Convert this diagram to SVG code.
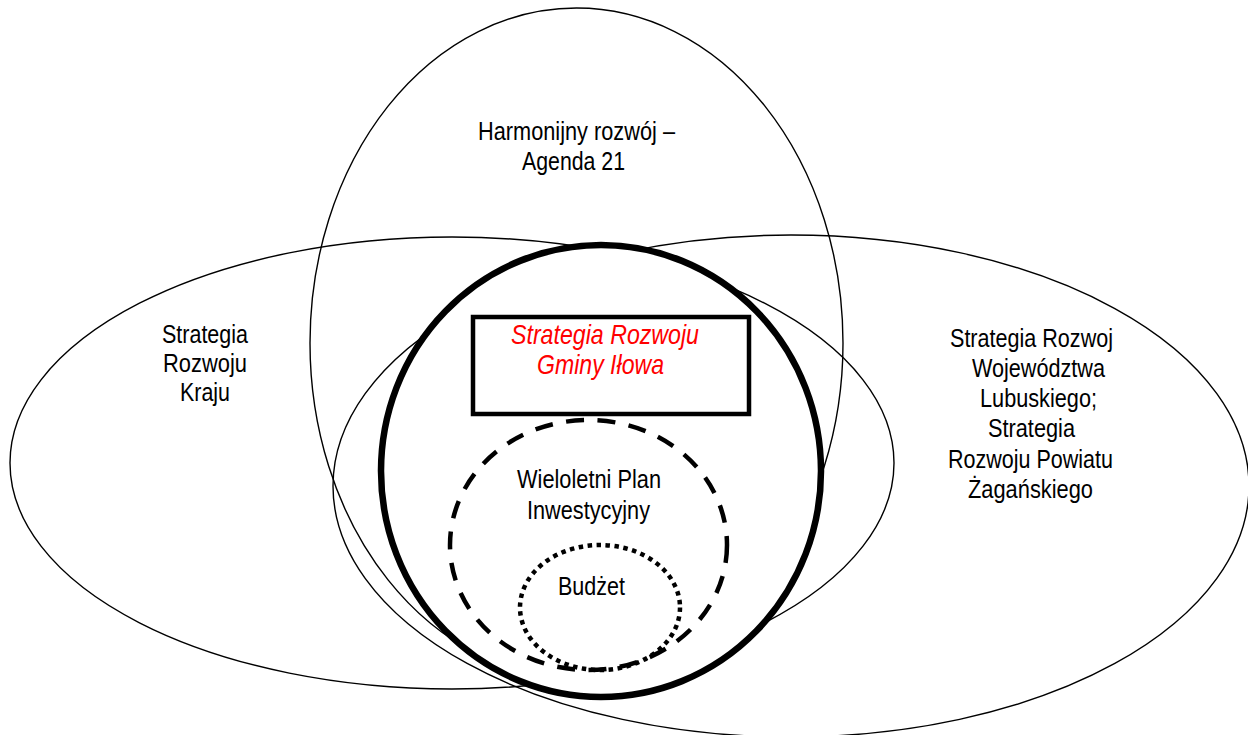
<svg xmlns="http://www.w3.org/2000/svg" width="1248" height="735" viewBox="0 0 1248 735">
<style>
.thin{fill:none;stroke:#000;stroke-width:1.4}
.lbl{font-family:'Liberation Sans Narrow','Arial Narrow','Liberation Sans',Arial,sans-serif;font-size:26.5px;fill:#000;text-anchor:middle}
.red{font-family:'Liberation Sans Narrow','Arial Narrow','Liberation Sans',Arial,sans-serif;font-size:28px;font-style:italic;fill:#ff0000;text-anchor:middle}
</style>
<rect width="1248" height="735" fill="#fff"/>
<g id="agenda21">
<ellipse class="thin" cx="576.5" cy="343" rx="266.5" ry="335"/>
<text class="lbl" x="576.5" y="140" textLength="197" lengthAdjust="spacingAndGlyphs">Harmonijny rozwój –</text>
<text class="lbl" x="573.5" y="170" textLength="103" lengthAdjust="spacingAndGlyphs">Agenda 21</text>
</g>
<g id="kraj">
<ellipse class="thin" cx="452" cy="463" rx="442" ry="226"/>
<text class="lbl" x="205" y="343" textLength="86" lengthAdjust="spacingAndGlyphs">Strategia</text>
<text class="lbl" x="205" y="372" textLength="84" lengthAdjust="spacingAndGlyphs">Rozwoju</text>
<text class="lbl" x="205" y="401" textLength="50" lengthAdjust="spacingAndGlyphs">Kraju</text>
</g>
<g id="wojewodztwo">
<ellipse class="thin" cx="791" cy="486" rx="458" ry="251"/>
<text class="lbl" x="1031.5" y="347" textLength="163" lengthAdjust="spacingAndGlyphs">Strategia Rozwoj</text>
<text class="lbl" x="1038.5" y="377" textLength="133" lengthAdjust="spacingAndGlyphs">Województwa</text>
<text class="lbl" x="1038.5" y="407" textLength="117" lengthAdjust="spacingAndGlyphs">Lubuskiego;</text>
<text class="lbl" x="1031.5" y="437" textLength="87" lengthAdjust="spacingAndGlyphs">Strategia</text>
<text class="lbl" x="1030.5" y="468" textLength="165" lengthAdjust="spacingAndGlyphs">Rozwoju Powiatu</text>
<text class="lbl" x="1030.5" y="498" textLength="125" lengthAdjust="spacingAndGlyphs">Żagańskiego</text>
</g>
<g id="gmina">
<ellipse cx="601" cy="471" rx="220" ry="226" fill="#fff" stroke="#000" stroke-width="6.5"/>
<rect x="473" y="317" width="276" height="97" fill="#fff" stroke="#000" stroke-width="4.5"/>
<text class="red" x="605" y="344" textLength="188" lengthAdjust="spacingAndGlyphs">Strategia Rozwoju</text>
<text class="red" x="600.5" y="374" textLength="127" lengthAdjust="spacingAndGlyphs">Gminy Iłowa</text>
</g>
<g id="wpi">
<ellipse cx="588.5" cy="545" rx="138.5" ry="125" fill="none" stroke="#000" stroke-width="4.5" stroke-dasharray="18 13.5"/>
<text class="lbl" x="589" y="488" textLength="144" lengthAdjust="spacingAndGlyphs">Wieloletni Plan</text>
<text class="lbl" x="588.5" y="519" textLength="123" lengthAdjust="spacingAndGlyphs">Inwestycyjny</text>
</g>
<g id="budzet">
<ellipse cx="600" cy="607.5" rx="80" ry="62.5" fill="none" stroke="#000" stroke-width="4.5" stroke-dasharray="4.5 4.5"/>
<text class="lbl" x="591.5" y="595" textLength="67" lengthAdjust="spacingAndGlyphs">Budżet</text>
</g>
</svg>
